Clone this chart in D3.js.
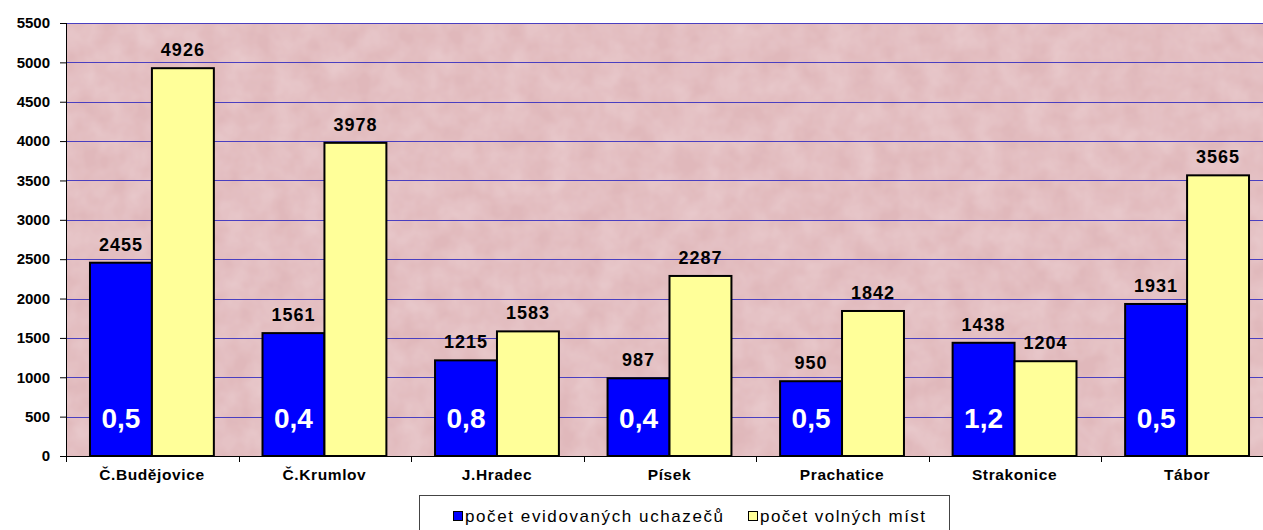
<!DOCTYPE html>
<html><head><meta charset="utf-8">
<script src="https://cdn.jsdelivr.net/npm/d3@7"></script>
<style>body{margin:0;background:#fff}svg{display:block}text{font-family:Arial,"Liberation Sans",sans-serif}</style>
</head><body><svg id="c" width="1263" height="530"></svg>
<script>
const categories = ["Č.Budějovice","Č.Krumlov","J.Hradec","Písek","Prachatice","Strakonice","Tábor"];
const uchazeci = [2455,1561,1215,987,950,1438,1931];
const mista = [4926,3978,1583,2287,1842,1204,3565];
const ratios = ["0,5","0,4","0,8","0,4","0,5","1,2","0,5"];
const seriesNames = ["počet evidovaných uchazečů","počet volných míst"];
const yTicks = [0,500,1000,1500,2000,2500,3000,3500,4000,4500,5000,5500];

const svg = d3.select("#c");
const L=66, R=1273, W=1263, T=23, B=456;
const defs = svg.append("defs");
const f = defs.append("filter").attr("id","tex").attr("x",0).attr("y",0).attr("width","100%").attr("height","100%");
f.append("feTurbulence").attr("type","fractalNoise").attr("baseFrequency","0.04").attr("numOctaves",3).attr("seed",4).attr("result","n");
f.append("feColorMatrix").attr("in","n").attr("type","matrix")
 .attr("values","0 0 0 0 0.95  0 0 0 0 0.82  0 0 0 0 0.84  0 0 0 0.45 -0.1").attr("result","c");
f.append("feComposite").attr("in","c").attr("in2","SourceGraphic").attr("operator","over");

const x = d3.scaleBand().domain(categories).range([L,R]).paddingInner(0.282).paddingOuter(0.139);
const x1 = d3.scaleBand().domain([0,1]).range([0,x.bandwidth()]);
const y = d3.scaleLinear().domain([0,5500]).range([B,T]);

svg.append("rect").attr("x",L).attr("y",T).attr("width",W-L).attr("height",B-T).attr("fill","#e0b8bb").attr("filter","url(#tex)");

svg.append("g").selectAll("line").data(yTicks.filter(d=>d>0)).join("line")
 .attr("x1",L).attr("x2",W).attr("y1",d=>Math.round(y(d))+0.5).attr("y2",d=>Math.round(y(d))+0.5)
 .attr("stroke","#4a3fc0").attr("stroke-width",1.2);

const yAxis = svg.append("g").attr("transform",`translate(${L},0)`)
 .call(d3.axisLeft(y).tickValues(yTicks).tickFormat(d3.format("d")).tickSize(6).tickPadding(10));
yAxis.select(".domain").remove();
yAxis.selectAll("line").attr("stroke","#000");
yAxis.selectAll("text").attr("font-size",15).attr("font-weight","bold").attr("fill","#000");

const colors=["#0000ff","#ffff99"];
const g = svg.append("g");
categories.forEach((c,i)=>{
  [uchazeci[i],mista[i]].forEach((v,j)=>{
    const bx = x(c)+x1(j);
    g.append("rect").attr("x",bx).attr("y",y(v)).attr("width",x1.bandwidth()).attr("height",B-y(v))
     .attr("fill",colors[j]).attr("stroke","#000").attr("stroke-width",2);
    g.append("text").attr("x",bx+x1.bandwidth()/2).attr("y",y(v)-12).attr("text-anchor","middle")
     .attr("font-size",18).attr("font-weight","bold").attr("letter-spacing","1px").text(v);
  });
  g.append("text").attr("x",x(c)+x1(0)+x1.bandwidth()/2).attr("y",y(500)+11).attr("text-anchor","middle")
   .attr("font-size",28).attr("font-weight","bold").attr("fill","#fff").text(ratios[i]);
});

const xAxis = svg.append("g").attr("transform",`translate(0,${B})`)
 .call(d3.axisBottom(x).tickSize(0).tickPadding(13));
xAxis.select(".domain").attr("stroke","#000").attr("d",`M${L},0.5H${W}`);
xAxis.selectAll("text").attr("font-size",15.5).attr("font-weight","bold").attr("fill","#000").attr("letter-spacing","0.6px");
svg.append("g").selectAll("line").data(d3.range(categories.length+1)).join("line")
 .attr("x1",d=>Math.round(L+d*x.step())+0.5).attr("x2",d=>Math.round(L+d*x.step())+0.5)
 .attr("y1",B).attr("y2",B+6).attr("stroke","#000");
svg.append("line").attr("x1",L+0.5).attr("x2",L+0.5).attr("y1",T).attr("y2",B).attr("stroke","#000");

const lg = svg.append("g");
lg.append("rect").attr("x",419.5).attr("y",495.5).attr("width",530).attr("height",40).attr("fill","#fff").attr("stroke","#444");
const lx=[453,748], lw=[258,165];
seriesNames.forEach((n,i)=>{
  lg.append("rect").attr("x",lx[i]+0.5).attr("y",511.5).attr("width",9).attr("height",9).attr("fill",colors[i]).attr("stroke","#000");
  lg.append("text").attr("x",lx[i]+12).attr("y",522).attr("font-size",17).attr("textLength",lw[i]).attr("lengthAdjust","spacing").text(n);
});
</script></body></html>
